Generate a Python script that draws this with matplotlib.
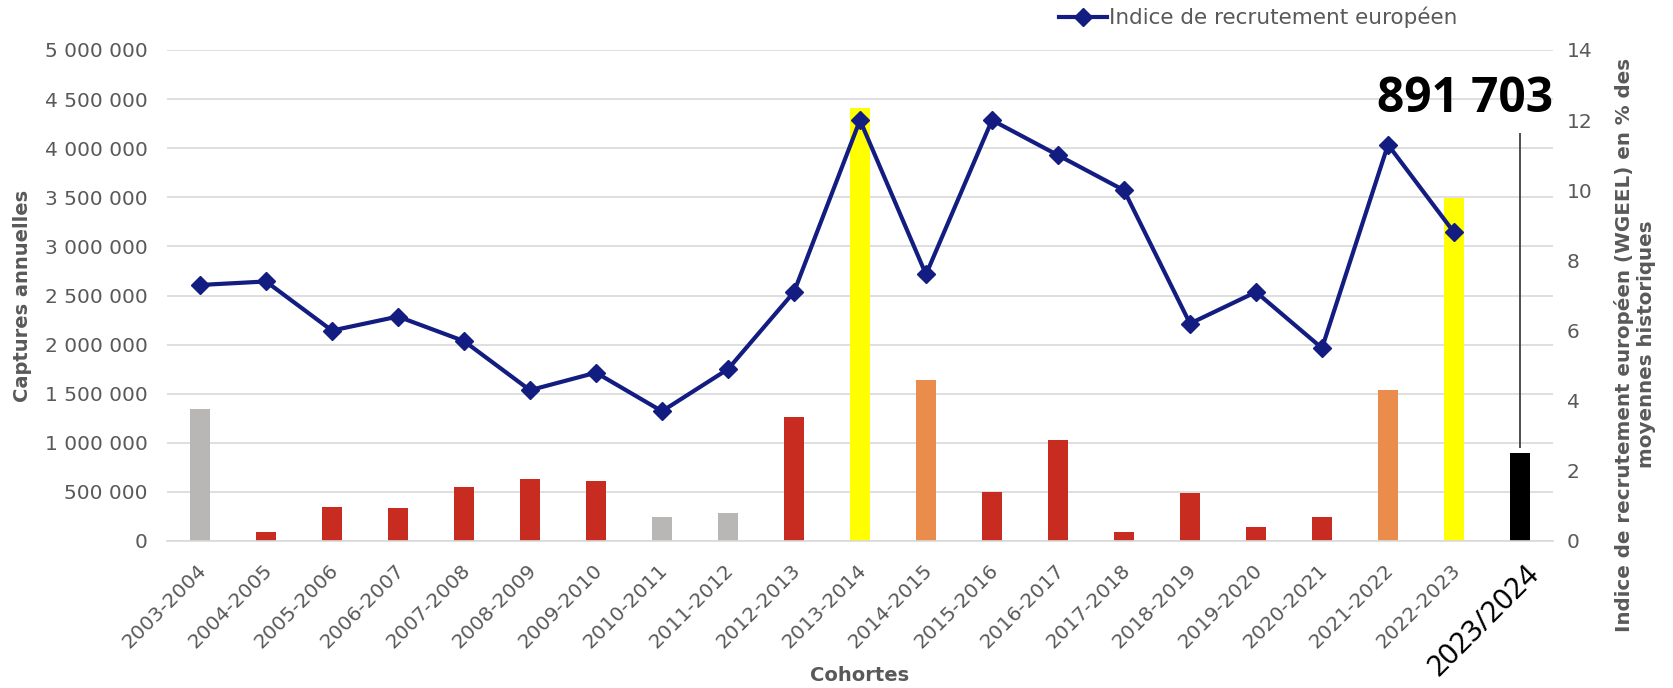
import numpy as np
from matplotlib import pyplot as plt
from matplotlib.ticker import FuncFormatter
from matplotlib.transforms import ScaledTranslation

cohortes = ['2003-2004', '2004-2005', '2005-2006', '2006-2007', '2007-2008',
            '2008-2009', '2009-2010', '2010-2011', '2011-2012', '2012-2013',
            '2013-2014', '2014-2015', '2015-2016', '2016-2017', '2017-2018',
            '2018-2019', '2019-2020', '2020-2021', '2021-2022', '2022-2023',
            '2023/2024']
captures = [1345000, 95000, 346000, 336000, 550000, 628000, 607000, 244000,
            288000, 1258000, 4413000, 1642000, 502000, 1031000, 95000, 488000,
            146000, 248000, 1533000, 3494000, 891703]
indice = [7.3, 7.4, 6.0, 6.4, 5.7, 4.3, 4.8, 3.7, 4.9, 7.1, 12.0, 7.6, 12.0,
          11.0, 10.0, 6.2, 7.1, 5.5, 11.3, 8.8, np.nan]
bar_colors = ['#b8b7b5', '#c82b20', '#c82b20', '#c82b20', '#c82b20', '#c82b20',
              '#c82b20', '#b8b7b5', '#b8b7b5', '#c82b20', '#ffff00', '#ea8c4b',
              '#c82b20', '#c82b20', '#c82b20', '#c82b20', '#c82b20', '#c82b20',
              '#ea8c4b', '#ffff00', '#000000']

grey = '#595959'
navy = '#131c80'

fig = plt.figure(figsize=(16.73, 6.88), dpi=100)
ax = fig.add_axes([167 / 1673, 1 - 541 / 688, 1386 / 1673, 491 / 688])
x = np.arange(len(cohortes))

ax.bar(x, captures, width=0.31, color=bar_colors, zorder=2)
ax.set_xlim(-0.5, len(cohortes) - 0.5)
ax.set_ylim(0, 5000000)
ax.set_yticks(np.arange(0, 5000001, 500000))
ax.yaxis.set_major_formatter(FuncFormatter(lambda v, p: f'{v:,.0f}'.replace(',', ' ')))
ax.grid(axis='y', color='#d9d9d9', lw=1.2, zorder=0)
ax.set_axisbelow(True)
for s in ['top', 'left', 'right']:
    ax.spines[s].set_visible(False)
ax.spines['bottom'].set_color('#d9d9d9')
ax.spines['bottom'].set_linewidth(1.2)
ax.tick_params(axis='y', length=0, pad=14, labelsize=14.5, labelcolor=grey)
ax.tick_params(axis='x', length=0, pad=19)
ax.set_xticks(x)
ax.set_xticklabels(cohortes, rotation=45, ha='right', va='center',
                   rotation_mode='anchor', fontsize=14.5, color=grey)
shift = ScaledTranslation(3 / 100, 0, fig.dpi_scale_trans)
labels = ax.get_xticklabels()
for lab in labels[:-1]:
    lab.set_transform(lab.get_transform() + shift)
# derniere cohorte mise en avant
last = labels[-1]
last.set_transform(last.get_transform() + ScaledTranslation(15 / 100, -2 / 100, fig.dpi_scale_trans))
last.set_color('black')
last.set_fontsize(21)
last.set_family('Noto Sans')

ax.set_ylabel('Captures annuelles', fontsize=14, fontweight='bold', color=grey, labelpad=9)
ax.set_xlabel('Cohortes', fontsize=14, fontweight='bold', color=grey)
ax.xaxis.set_label_coords(0.5, -0.255)

val = captures[-1]
ax.vlines(x[-1], val + 60000, 4150000, color='#404040', lw=1.3, zorder=3)
ax.text(len(cohortes) - 0.5, 4370000, f'{val:,}'.replace(',', ' '), ha='right',
        va='baseline', fontsize=34.5, fontweight='bold', family='Open Sans', color='black')

ax2 = ax.twinx()
ax2.plot(x, indice, color=navy, lw=3, marker='D', markersize=9,
         label='Indice de recrutement européen')
ax2.set_ylim(0, 14)
ax2.set_yticks(np.arange(0, 15, 2))
for s in ['top', 'left', 'right', 'bottom']:
    ax2.spines[s].set_visible(False)
ax2.tick_params(axis='y', length=0, pad=10, labelsize=14.5, labelcolor=grey)
ax2.set_ylabel('Indice de recrutement européen (WGEEL) en % des\nmoyennes historiques',
               fontsize=14.3, fontweight='bold', color=grey)
ax2.yaxis.set_label_coords(1.044, 0.40)

fig.legend(loc='upper center', bbox_to_anchor=(0.752, 1.018), frameon=False,
           fontsize=15.5, labelcolor=grey, handlelength=2.2, handletextpad=0.1)

fig.savefig('out.png', dpi=100)
